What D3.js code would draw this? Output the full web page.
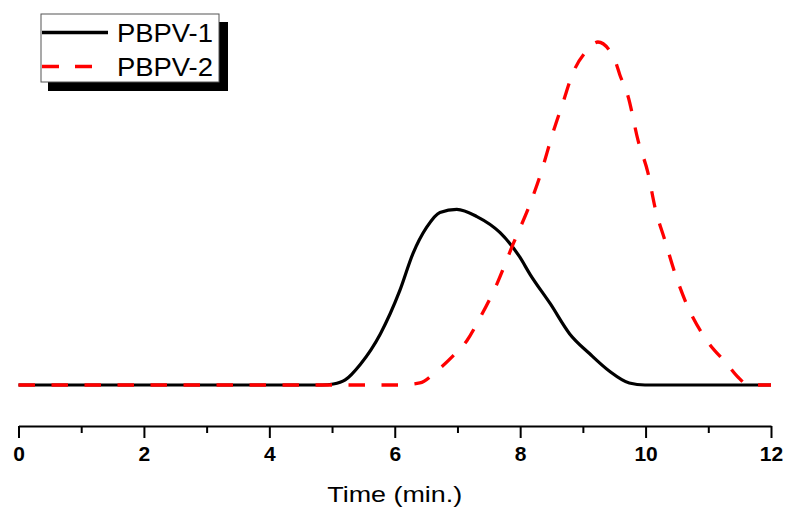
<!DOCTYPE html>
<html>
<head>
<meta charset="utf-8">
<script src="https://cdn.jsdelivr.net/npm/d3@7"></script>
<style>
body { margin: 0; background: #fff; }
svg { display: block; font-family: "Liberation Sans", Arial, sans-serif; }
</style>
</head>
<body>
<svg id="chart"></svg>
<script>
// время (мин.) и интенсивность сигнала
const timeP1 = [0, 4.84, 5.02, 5.21, 5.45, 5.77, 6.08, 6.29, 6.51, 6.72, 6.99, 7.31, 7.68, 7.99, 8.16, 8.48, 8.79, 9.11, 9.42, 9.74, 9.99, 12];
const valP1  = [0, 0, 0.3, 1.5, 6, 14.9, 27.5, 38.3, 46, 50.3, 51.2, 49.1, 44.4, 37.4, 32.2, 23.7, 14.9, 9.1, 4.1, 0.6, 0, 0];

const timeP2 = [0, 6.08, 6.40, 6.67, 6.93, 7.15, 7.36, 7.63, 7.89, 8.16, 8.33, 8.52, 8.68, 8.84, 9.06, 9.24, 9.51, 9.59, 9.72, 9.88, 10.04, 10.15, 10.31, 10.47, 10.68, 10.98, 11.30, 11.48, 11.64, 12];
const valP2  = [0, 0, 0.6, 4.1, 8.5, 12.9, 19.6, 29.5, 41.2, 52.9, 61.7, 73.4, 82.2, 90.9, 97.4, 100, 94.7, 90.4, 84.2, 71.3, 61.7, 51.8, 42.1, 32.5, 22.5, 12.9, 6.1, 2.2, 0, 0];

const seriesNames = ["PBPV-1", "PBPV-2"];
const majorTicks = [0, 2, 4, 6, 8, 10, 12];
const minorTicks = [1, 3, 5, 7, 9, 11];

let width = 787;
let height = 511;

let svg = d3.select("#chart")
    .attr("width", width)
    .attr("height", height);

let scaleX = d3.scaleLinear()
    .domain([0, 12])
    .range([18.5, 771]);

let scaleY = d3.scaleLinear()
    .domain([0, 100])
    .range([385, 42]);

let axisY0 = 426;

// минорные деления
svg.append("g")
    .attr("transform", `translate(0, ${axisY0})`)
    .call(d3.axisBottom(scaleX).tickValues(minorTicks).tickSize(7).tickFormat(""))
    .call(g => g.select(".domain").remove())
    .call(g => g.selectAll("line").attr("stroke", "#000").attr("stroke-width", 2));

// основная ось
let axisX = d3.axisBottom(scaleX)
    .tickValues(majorTicks)
    .tickSize(12)
    .tickSizeOuter(0)
    .tickPadding(8);

svg.append("g")
    .attr("transform", `translate(0, ${axisY0})`)
    .call(axisX)
    .call(g => g.select(".domain").attr("stroke", "#000").attr("stroke-width", 2))
    .call(g => g.selectAll("line").attr("stroke", "#000").attr("stroke-width", 2))
    .call(g => g.selectAll("text")
        .attr("fill", "#000")
        .style("font-size", "21px")
        .style("font-weight", "bold")
        .style("font-family", "'Liberation Sans', Arial, sans-serif"));

svg.append("text")
    .attr("x", scaleX(6))
    .attr("y", 502)
    .attr("text-anchor", "middle")
    .attr("textLength", 135)
    .attr("lengthAdjust", "spacingAndGlyphs")
    .style("font-size", "22px")
    .text("Time (min.)");

let lineF = d3.line()
    .x(d => scaleX(d.x))
    .y(d => scaleY(d.f))
    .curve(d3.curveMonotoneX);

let data1 = timeP1.map((t, i) => ({x: t, f: valP1[i]}));
let data2 = timeP2.map((t, i) => ({x: t, f: valP2[i]}));

svg.append("path")
    .datum(data1)
    .attr("d", lineF)
    .attr("fill", "none")
    .attr("stroke", "#000")
    .attr("stroke-width", 3.2);

svg.append("path")
    .datum(data2)
    .attr("d", lineF)
    .attr("fill", "none")
    .attr("stroke", "#ff0000")
    .attr("stroke-width", 3.3)
    .attr("stroke-dasharray", "16.5,16.5");

// легенда
let legend = svg.append("g");
legend.append("rect")
    .attr("x", 48).attr("y", 22)
    .attr("width", 180).attr("height", 69)
    .attr("fill", "#000");
legend.append("rect")
    .attr("x", 41).attr("y", 14)
    .attr("width", 178).attr("height", 68)
    .attr("fill", "#fff")
    .attr("stroke", "#555")
    .attr("stroke-width", 1);

let legendStyles = [
    {color: "#000", dash: null, y: 32.5},
    {color: "#ff0000", dash: "17,16", y: 66.5}
];

seriesNames.forEach((name, i) => {
    let s = legendStyles[i];
    legend.append("line")
        .attr("x1", 42).attr("x2", 108)
        .attr("y1", s.y).attr("y2", s.y)
        .attr("stroke", s.color)
        .attr("stroke-width", 3.3)
        .attr("stroke-dasharray", s.dash);
    legend.append("text")
        .attr("x", 117)
        .attr("y", s.y + 9.5)
        .attr("textLength", 96)
        .attr("lengthAdjust", "spacingAndGlyphs")
        .style("font-size", "26px")
        .text(name);
});
</script>
</body>
</html>
